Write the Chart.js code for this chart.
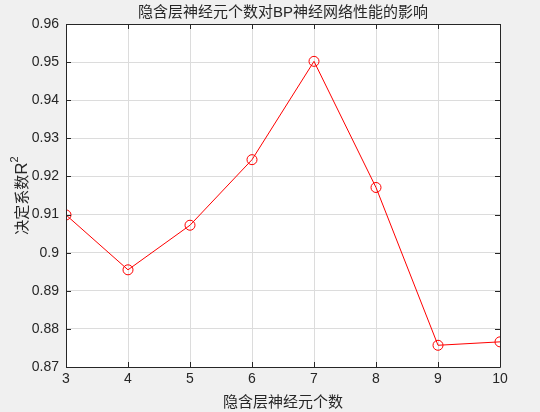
<!DOCTYPE html>
<html>
<head>
<meta charset="utf-8">
<script src="https://cdn.jsdelivr.net/npm/chart.js@4/dist/chart.umd.min.js"></script>
<style>
  html, body { margin: 0; padding: 0; background: #f0f0f0; }
  #wrap { width: 540px; height: 412px; }
</style>
</head>
<body>
<div id="wrap"><canvas id="chart" width="540" height="412"></canvas></div>
<script>
const neurons = [3, 4, 5, 6, 7, 8, 9, 10]
const r2 = [0.9099, 0.8955, 0.9072, 0.9244, 0.9502, 0.9171, 0.8757, 0.8766]
const titleText = '隐含层神经元个数对BP神经网络性能的影响'
const xTitle = '隐含层神经元个数'
const yTitleParts = ['决定系数', 'R', '2']

const fontFamily = '"Liberation Sans", Arial, "Noto Sans CJK SC", sans-serif'
const textColor = '#262626'

// white plot box, outline, inward ticks, title and y label
const matlabAxes = {
  id: 'matlabAxes',
  beforeDraw(chart) {
    const {ctx, chartArea: a} = chart
    ctx.save()
    ctx.fillStyle = '#ffffff'
    ctx.fillRect(a.left, a.top, a.right - a.left, a.bottom - a.top)
    ctx.restore()
  },
  afterDraw(chart) {
    const {ctx, chartArea: a, scales} = chart
    ctx.save()
    ctx.strokeStyle = textColor
    ctx.lineWidth = 1
    ctx.beginPath()
    ctx.rect(Math.round(a.left) + 0.5, Math.round(a.top) + 0.5,
      Math.round(a.right - a.left), Math.round(a.bottom - a.top))
    const tl = 5
    scales.x.ticks.forEach(t => {
      const x = Math.round(scales.x.getPixelForValue(t.value)) + 0.5
      ctx.moveTo(x, a.bottom); ctx.lineTo(x, a.bottom - tl)
      ctx.moveTo(x, a.top); ctx.lineTo(x, a.top + tl)
    })
    scales.y.ticks.forEach(t => {
      const y = Math.round(scales.y.getPixelForValue(t.value)) + 0.5
      ctx.moveTo(a.left, y); ctx.lineTo(a.left + tl, y)
      ctx.moveTo(a.right, y); ctx.lineTo(a.right - tl, y)
    })
    ctx.stroke()

    ctx.fillStyle = textColor
    ctx.font = '15px ' + fontFamily
    ctx.textAlign = 'center'
    ctx.textBaseline = 'middle'
    ctx.fillText(titleText, (a.left + a.right) / 2, 13)

    // y label with superscript, rotated
    const fonts = ['15px ' + fontFamily, '17px ' + fontFamily, '11px ' + fontFamily]
    const widths = yTitleParts.map((s, i) => { ctx.font = fonts[i]; return ctx.measureText(s).width })
    const total = widths.reduce((s, w) => s + w, 0)
    ctx.translate(27, (a.top + a.bottom) / 2)
    ctx.rotate(-Math.PI / 2)
    ctx.textAlign = 'left'
    ctx.textBaseline = 'alphabetic'
    let x = -total / 2
    yTitleParts.forEach((s, i) => {
      ctx.font = fonts[i]
      ctx.fillText(s, x, i === 2 ? -9 : 0)
      x += widths[i]
    })
    ctx.restore()
  }
}

new Chart(document.getElementById('chart'), {
  type: 'line',
  data: {
    labels: neurons,
    datasets: [{
      data: r2,
      borderColor: '#ff0000',
      borderWidth: 1,
      pointStyle: 'circle',
      pointRadius: 5,
      pointBorderWidth: 1,
      pointBorderColor: '#ff0000',
      pointBackgroundColor: 'rgba(0,0,0,0)',
      tension: 0
    }]
  },
  options: {
    responsive: false,
    animation: false,
    layout: {padding: {top: 24, right: 40, left: 0, bottom: 0}},
    plugins: {
      legend: {display: false},
      tooltip: {enabled: false}
    },
    scales: {
      x: {
        type: 'linear',
        min: 3,
        max: 10,
        ticks: {stepSize: 1, color: textColor, font: {family: fontFamily, size: 14}, padding: 4},
        grid: {color: '#dcdcdc', drawTicks: false},
        border: {display: false},
        title: {display: true, text: xTitle, color: textColor, font: {family: fontFamily, size: 15}, padding: {top: 2, bottom: 0}},
        afterFit(scale) { scale.height = 45 }
      },
      y: {
        min: 0.87,
        max: 0.96,
        ticks: {
          stepSize: 0.01,
          color: textColor,
          font: {family: fontFamily, size: 14},
          padding: 7,
          callback: v => String(Math.round(v * 100) / 100)
        },
        grid: {color: '#dcdcdc', drawTicks: false},
        border: {display: false},
        afterFit(scale) { scale.width = 66 }
      }
    }
  },
  plugins: [matlabAxes]
})
</script>
</body>
</html>
